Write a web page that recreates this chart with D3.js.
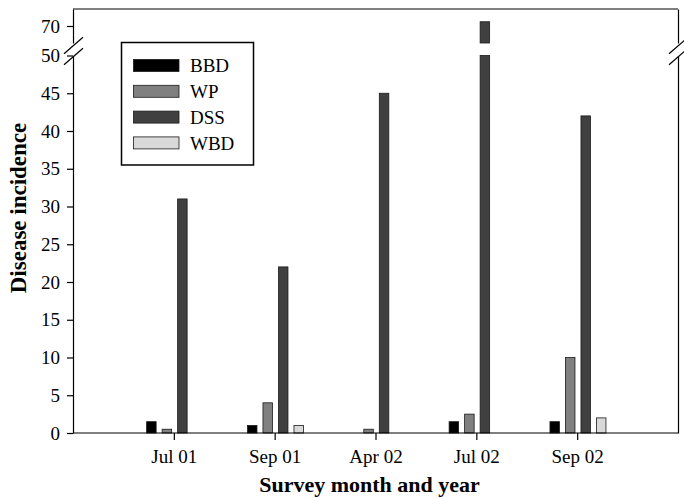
<!DOCTYPE html>
<html><head><meta charset="utf-8">
<script src="https://cdn.jsdelivr.net/npm/d3@7"></script>
<style>body{margin:0;background:#fff}svg{display:block}</style>
</head><body>
<svg id="c" width="684" height="498"></svg>
<script>
const categories = ["Jul 01", "Sep 01", "Apr 02", "Jul 02", "Sep 02"];
const seriesNames = ["BBD", "WP", "DSS", "WBD"];
const BBD = [1.5, 1, 0, 1.5, 1.5];
const WP  = [0.5, 4, 0.5, 2.5, 10];
const DSS = [31, 22, 45, 71, 42];
const WBD = [0, 1, 0, 0, 2];
const lowerTicks = [0, 5, 10, 15, 20, 25, 30, 35, 40, 45, 50];
const upperTicks = [70];
const colors = {BBD: "#000000", WP: "#808080", DSS: "#404040", WBD: "#d9d9d9"};
const seriesData = {BBD, WP, DSS, WBD};

const svg = d3.select("#c");
const L = 73, R = 678, B = 433, T = 9;
const lowTop = 55.5, upBot = 43;
const breakVal = 50;
const font = "'Liberation Serif','Times New Roman',serif";

const x0 = d3.scalePoint().domain(categories).range([L, R]).padding(1);
const x1 = d3.scaleBand().domain(seriesNames).range([-27.2, 28.8]).paddingInner(0.387);
const yLow = d3.scaleLinear().domain([0, 50]).range([B, lowTop]);
const yUp = d3.scaleLinear().domain([66, 74]).range([upBot, T]);

// bars
seriesNames.forEach(s => {
  const g = svg.append("g");
  categories.forEach((c, i) => {
    const v = seriesData[s][i];
    if (v <= 0) return;
    const x = x0(c) + x1(s);
    const vLow = Math.min(v, breakVal);
    g.append("rect").attr("x", x).attr("width", x1.bandwidth())
      .attr("y", yLow(vLow)).attr("height", B - yLow(vLow))
      .attr("fill", colors[s]).attr("stroke", "#1a1a1a").attr("stroke-width", 0.8);
    if (v > breakVal) {
      g.append("rect").attr("x", x).attr("width", x1.bandwidth())
        .attr("y", yUp(v)).attr("height", upBot - yUp(v))
        .attr("fill", colors[s]).attr("stroke", "#1a1a1a").attr("stroke-width", 0.8);
    }
  });
});

// axes
function styleAxis(g, size) {
  g.selectAll("text").attr("font-family", font).attr("font-size", size).attr("fill", "#000");
  g.selectAll("path,line").attr("stroke", "#000").attr("stroke-width", 1.2);
}
const axLow = svg.append("g").attr("transform", `translate(${L},0)`)
  .call(d3.axisLeft(yLow).tickValues(lowerTicks).tickSize(6).tickSizeOuter(0).tickPadding(7).tickFormat(d3.format("d")));
styleAxis(axLow, 19);
const axUp = svg.append("g").attr("transform", `translate(${L},0)`)
  .call(d3.axisLeft(yUp).tickValues(upperTicks).tickSize(6).tickSizeOuter(0).tickPadding(7).tickFormat(d3.format("d")));
styleAxis(axUp, 19);
const axRLow = svg.append("g").attr("transform", `translate(${R},0)`)
  .call(d3.axisRight(yLow).tickValues([]).tickSizeOuter(0));
styleAxis(axRLow, 19);
const axRUp = svg.append("g").attr("transform", `translate(${R},0)`)
  .call(d3.axisRight(yUp).tickValues([]).tickSizeOuter(0));
styleAxis(axRUp, 19);
const axX = svg.append("g").attr("transform", `translate(0,${B})`)
  .call(d3.axisBottom(x0).tickSize(7).tickSizeOuter(0).tickPadding(10));
axX.select(".domain").attr("d", `M${L},0H${R}`);
styleAxis(axX, 19);

// top frame line
svg.append("line").attr("x1", L).attr("x2", R).attr("y1", T).attr("y2", T)
  .attr("stroke", "#000").attr("stroke-width", 1.2);

// break marks
[L, R].forEach(ax => {
  [45.5, 56.5].forEach(cy => {
    svg.append("line").attr("x1", ax - 9).attr("y1", cy + 8.3).attr("x2", ax + 10).attr("y2", cy - 8.3)
      .attr("stroke", "#000").attr("stroke-width", 1.2);
  });
});

// axis titles
svg.append("text").attr("x", (L + R) / 2 - 6).attr("y", 491.5).attr("text-anchor", "middle")
  .attr("font-family", font).attr("font-weight", "bold").attr("font-size", 22).text("Survey month and year");
svg.append("text").attr("transform", "translate(26,208) rotate(-90)").attr("text-anchor", "middle")
  .attr("font-family", font).attr("font-weight", "bold").attr("font-size", 23).text("Disease incidence");

// legend
const lg = svg.append("g");
lg.append("rect").attr("x", 121.5).attr("y", 42.5).attr("width", 132).attr("height", 122.5)
  .attr("fill", "#fff").attr("stroke", "#000").attr("stroke-width", 1.5);
seriesNames.forEach((s, i) => {
  const yy = 59.5 + i * 25.8;
  lg.append("rect").attr("x", 133.5).attr("y", yy).attr("width", 45.5).attr("height", 12)
    .attr("fill", colors[s]).attr("stroke", "#1a1a1a").attr("stroke-width", 0.8);
  lg.append("text").attr("x", 190).attr("y", yy + 12.8).attr("font-family", font).attr("font-size", 19).text(s);
});
</script>
</body></html>
